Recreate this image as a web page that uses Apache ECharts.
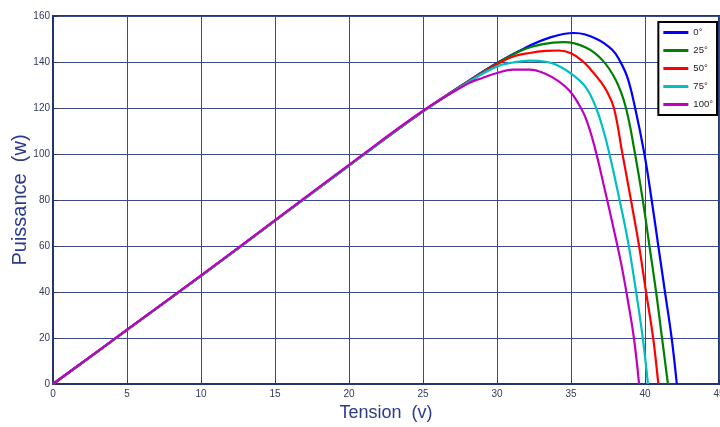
<!DOCTYPE html>
<html>
<head>
<meta charset="utf-8">
<script src="https://cdn.jsdelivr.net/npm/echarts@6/dist/echarts.min.js"></script>
<style>
html,body{margin:0;padding:0;background:#fff;}
#chart{width:720px;height:427px;}
</style>
</head>
<body>
<div id="chart"></div>
<script>
// Series names (legend)
const seriesNames = ['0°', '25°', '50°', '75°', '100°'];

// Tension (V) and Puissance (W) values
const v0 = [0, 5, 10, 15, 20, 25, 28, 30, 31.8, 33.6, 35.2, 36.7, 37.8, 38.3, 38.8, 39.3, 39.96, 40.45, 40.9, 41.35, 41.8, 42.15];
const p0 = [0, 23.5, 47, 71, 95, 118.5, 131.5, 139.6, 145.8, 150.7, 152.6, 150.1, 145.2, 140.5, 133.5, 121, 100, 80, 60, 40, 20, 0];

const v25 = [0, 5, 10, 15, 20, 25, 28, 30, 31.8, 33.1, 34.5, 36.0, 37.15, 38.05, 38.7, 39.3, 39.85, 40.3, 40.75, 41.15, 41.55];
const p25 = [0, 23.5, 47, 71, 95, 118.5, 131.3, 139.4, 145.4, 147.8, 148.6, 146.3, 140.6, 131.8, 120.3, 101, 80, 60, 40, 20, 0];

const v50 = [0, 5, 10, 15, 20, 25, 28, 30, 31.1, 32.2, 33.3, 34.2, 35.0, 35.8, 36.3, 37.0, 37.4, 37.9, 38.45, 39.05, 39.6, 40.07, 40.55, 40.9];
const p50 = [0, 23.5, 47, 71, 95, 118.5, 131.2, 139, 142.4, 143.9, 144.8, 145, 143.8, 140.3, 137, 131.5, 127.5, 120, 101, 80, 60, 40, 20, 0];

const v75 = [0, 5, 10, 15, 20, 25, 28, 30, 31.1, 32.2, 33.3, 34.0, 35.0, 36.0, 36.7, 37.2, 37.6, 38.25, 38.85, 39.4, 39.85, 40.2];
const p75 = [0, 23.5, 47, 71, 95, 118.5, 131, 138.1, 139.8, 140.6, 140.1, 138.8, 135, 129, 120, 110, 100, 81, 62, 40, 20, 0];

const v100 = [0, 5, 10, 15, 20, 25, 28, 28.8, 30, 31.1, 32.2, 33.3, 34.2, 34.9, 35.4, 36.0, 36.6, 37.3, 37.9, 38.4, 38.85, 39.25, 39.6];
const p100 = [0, 23.6, 47.2, 71.3, 95.3, 118.8, 130.5, 132.6, 135.2, 136.7, 136.7, 134.8, 131.5, 127.5, 123, 115.5, 103, 84, 67, 52, 36, 20, 0];

const seriesColors = ['#0000ff', '#008000', '#ff0000', '#00bfbf', '#bf00bf'];

const xs = [v0, v25, v50, v75, v100];
const ys = [p0, p25, p50, p75, p100];

const navy = '#26346e';
const chart = echarts.init(document.getElementById('chart'), null, {renderer: 'canvas'});

const series = seriesNames.map((name, i) => ({
  name: name,
  type: 'line',
  data: xs[i].map((v, k) => [v, ys[i][k]]),
  symbol: 'none',
  smooth: 0.4,
  lineStyle: {width: 2.2, color: seriesColors[i]},
  itemStyle: {color: seriesColors[i]},
  animation: false
}));

chart.setOption({
  animation: false,
  backgroundColor: '#ffffff',
  grid: {
    left: 53, right: 1, top: 16, bottom: 43,
    outerBoundsMode: 'none',
    containLabel: false,
    show: true, borderColor: navy, borderWidth: 2, backgroundColor: '#ffffff'
  },
  legend: {
    data: seriesNames,
    orient: 'vertical',
    right: 3,
    top: 22,
    icon: 'rect',
    itemWidth: 25,
    itemHeight: 3,
    itemGap: 7,
    padding: [5, 4, 5, 5],
    borderColor: '#000',
    borderWidth: 2,
    backgroundColor: '#ffffff',
    textStyle: {fontFamily: 'Liberation Sans, Arial', fontSize: 9.5, lineHeight: 11, color: '#222'}
  },
  xAxis: {
    type: 'value',
    min: 0, max: 45, interval: 5,
    name: 'Tension  (v)',
    nameLocation: 'middle',
    nameGap: 20,
    nameMoveOverlap: false,
    nameTextStyle: {fontFamily: 'Liberation Sans, Arial', fontSize: 18, color: '#2c3a8a'},
    axisLine: {show: true, lineStyle: {color: navy, width: 2}},
    axisTick: {show: true, inside: true, length: 4, lineStyle: {color: navy}},
    axisLabel: {fontFamily: 'Liberation Sans, Arial', fontSize: 10, color: '#333a5a', margin: 5, showMaxLabel: true},
    splitLine: {show: true, lineStyle: {color: '#3a4a86', width: 1}}
  },
  yAxis: {
    type: 'value',
    min: 0, max: 160, interval: 20,
    name: 'Puissance  (w)',
    nameLocation: 'middle',
    nameGap: 23,
    nameMoveOverlap: false,
    nameTextStyle: {fontFamily: 'Liberation Sans, Arial', fontSize: 20, color: '#2c3a8a'},
    axisLine: {show: true, lineStyle: {color: navy, width: 2}},
    axisTick: {show: true, inside: true, length: 4, lineStyle: {color: navy}},
    axisLabel: {fontFamily: 'Liberation Sans, Arial', fontSize: 10, color: '#333a5a', margin: 3},
    splitLine: {show: true, lineStyle: {color: '#3a4a86', width: 1}}
  },
  series: series
});
</script>
</body>
</html>
